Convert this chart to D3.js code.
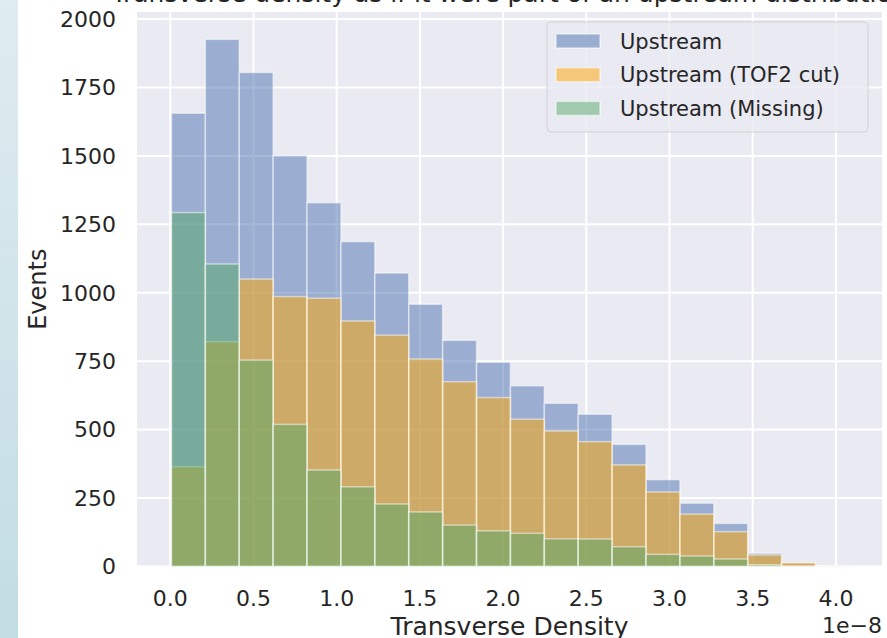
<!DOCTYPE html>
<html>
<head>
<meta charset="utf-8">
<script src="https://cdn.jsdelivr.net/npm/d3@7"></script>
<style>
    body { margin: 0; background: #fff; }
    svg { display: block; font-family: "DejaVu Sans", sans-serif; }
</style>
</head>
<body>
<div id="chart"></div>
<script>
// histogram bins, units of 1e-8
const binStart = 0.007;
const binWidth = 0.2037;
const upstream   = [1656, 1926, 1805, 1501, 1329, 1187, 1072, 958, 826, 746, 660, 596, 556, 446, 317, 231, 157, 48, 14, 1];
const tof2Cut    = [364, 821, 1050, 986, 980, 897, 845, 758, 675, 617, 538, 495, 456, 371, 272, 191, 127, 42, 13, 1];
const missing    = [1293, 1105, 754, 519, 352, 291, 228, 199, 151, 130, 121, 101, 100, 72, 44, 38, 27, 6, 1, 0];
const seriesNames = ['Upstream', 'Upstream (TOF2 cut)', 'Upstream (Missing)'];
const seriesColors = ['#4c72b0', '#ffa500', '#55a868'];
const yTicks = [0, 250, 500, 750, 1000, 1250, 1500, 1750, 2000];
const xTicks = [0, 0.5, 1, 1.5, 2, 2.5, 3, 3.5, 4];

const W = 887, H = 638;
const plot = {left: 137, right: 882, top: 12, bottom: 566.4};

const svg = d3.select('#chart').append('svg')
    .attr('width', W)
    .attr('height', H);

// light blue strip on the left edge
const grad = svg.append('defs').append('linearGradient')
    .attr('id', 'strip')
    .attr('x1', 0).attr('y1', 0).attr('x2', 0).attr('y2', 1);
grad.append('stop').attr('offset', '0%').attr('stop-color', '#dfecf1');
grad.append('stop').attr('offset', '100%').attr('stop-color', '#c2dce3');
svg.append('rect')
    .attr('x', 0).attr('y', 0)
    .attr('width', 18).attr('height', H)
    .attr('fill', 'url(#strip)');

const x = d3.scaleLinear().domain([-0.2, 4.277]).range([plot.left, plot.right]);
const y = d3.scaleLinear().domain([0, 2026]).range([plot.bottom, plot.top]);

svg.append('rect')
    .attr('x', plot.left).attr('y', plot.top)
    .attr('width', plot.right - plot.left)
    .attr('height', plot.bottom - plot.top)
    .attr('fill', '#eaeaf2');

// grid
svg.append('g').selectAll('line.gy')
    .data(yTicks)
    .enter().append('line')
    .attr('x1', plot.left).attr('x2', plot.right)
    .attr('y1', d => y(d)).attr('y2', d => y(d))
    .attr('stroke', '#fff').attr('stroke-width', 2);
svg.append('g').selectAll('line.gx')
    .data(xTicks)
    .enter().append('line')
    .attr('x1', d => x(d)).attr('x2', d => x(d))
    .attr('y1', plot.top).attr('y2', plot.bottom)
    .attr('stroke', '#fff').attr('stroke-width', 2);

// bars, drawn over each other with alpha like plt.hist
[upstream, tof2Cut, missing].forEach((vals, si) => {
    svg.append('g').selectAll('rect')
        .data(vals)
        .enter().append('rect')
        .attr('x', (d, i) => x(binStart + i * binWidth))
        .attr('width', x(binWidth) - x(0))
        .attr('y', d => y(d))
        .attr('height', d => y(0) - y(d))
        .attr('fill', seriesColors[si])
        .attr('fill-opacity', 0.5)
        .attr('stroke', '#fff')
        .attr('stroke-opacity', 0.5)
        .attr('stroke-width', 1.5);
});

// axes text
const textColor = '#262626';
svg.append('g').selectAll('text')
    .data(yTicks)
    .enter().append('text')
    .attr('x', plot.left - 21)
    .attr('y', d => y(d))
    .attr('dy', '0.36em')
    .attr('text-anchor', 'end')
    .attr('font-size', 22)
    .attr('fill', textColor)
    .text(d => d);

svg.append('g').selectAll('text')
    .data(xTicks)
    .enter().append('text')
    .attr('x', d => x(d))
    .attr('y', 606)
    .attr('text-anchor', 'middle')
    .attr('font-size', 22)
    .attr('fill', textColor)
    .text(d => d3.format('.1f')(d));

svg.append('text')
    .attr('x', plot.right)
    .attr('y', 633)
    .attr('text-anchor', 'end')
    .attr('font-size', 22)
    .attr('fill', textColor)
    .text('1e\u22128');

svg.append('text')
    .attr('x', (plot.left + plot.right) / 2)
    .attr('y', 635)
    .attr('text-anchor', 'middle')
    .attr('font-size', 25)
    .attr('fill', textColor)
    .text('Transverse Density');

svg.append('text')
    .attr('transform', `translate(46,${(plot.top + plot.bottom) / 2}) rotate(-90)`)
    .attr('text-anchor', 'middle')
    .attr('font-size', 24)
    .attr('fill', textColor)
    .text('Events');

// title, mostly cut off at the top
svg.append('text')
    .attr('x', (plot.left + plot.right) / 2)
    .attr('y', 2)
    .attr('text-anchor', 'middle')
    .attr('font-size', 25)
    .attr('fill', textColor)
    .text('Transverse density as if it were part of an upstream distribution');

// legend
const lg = svg.append('g').attr('transform', 'translate(547,22)');
lg.append('rect')
    .attr('width', 321).attr('height', 110)
    .attr('rx', 4)
    .attr('fill', '#eaeaf2').attr('fill-opacity', 0.8)
    .attr('stroke', '#cccccc').attr('stroke-opacity', 0.8);
const row = lg.selectAll('g.row')
    .data(seriesNames)
    .enter().append('g')
    .attr('transform', (d, i) => `translate(0,${19 + i * 33.7})`);
row.append('rect')
    .attr('x', 9).attr('y', -7)
    .attr('width', 44).attr('height', 14)
    .attr('fill', (d, i) => seriesColors[i])
    .attr('fill-opacity', 0.5)
    .attr('stroke', '#fff')
    .attr('stroke-opacity', 0.5)
    .attr('stroke-width', 1.5);
row.append('text')
    .attr('x', 73)
    .attr('dy', '0.36em')
    .attr('font-size', 21)
    .attr('fill', textColor)
    .text(d => d);
</script>
</body>
</html>
